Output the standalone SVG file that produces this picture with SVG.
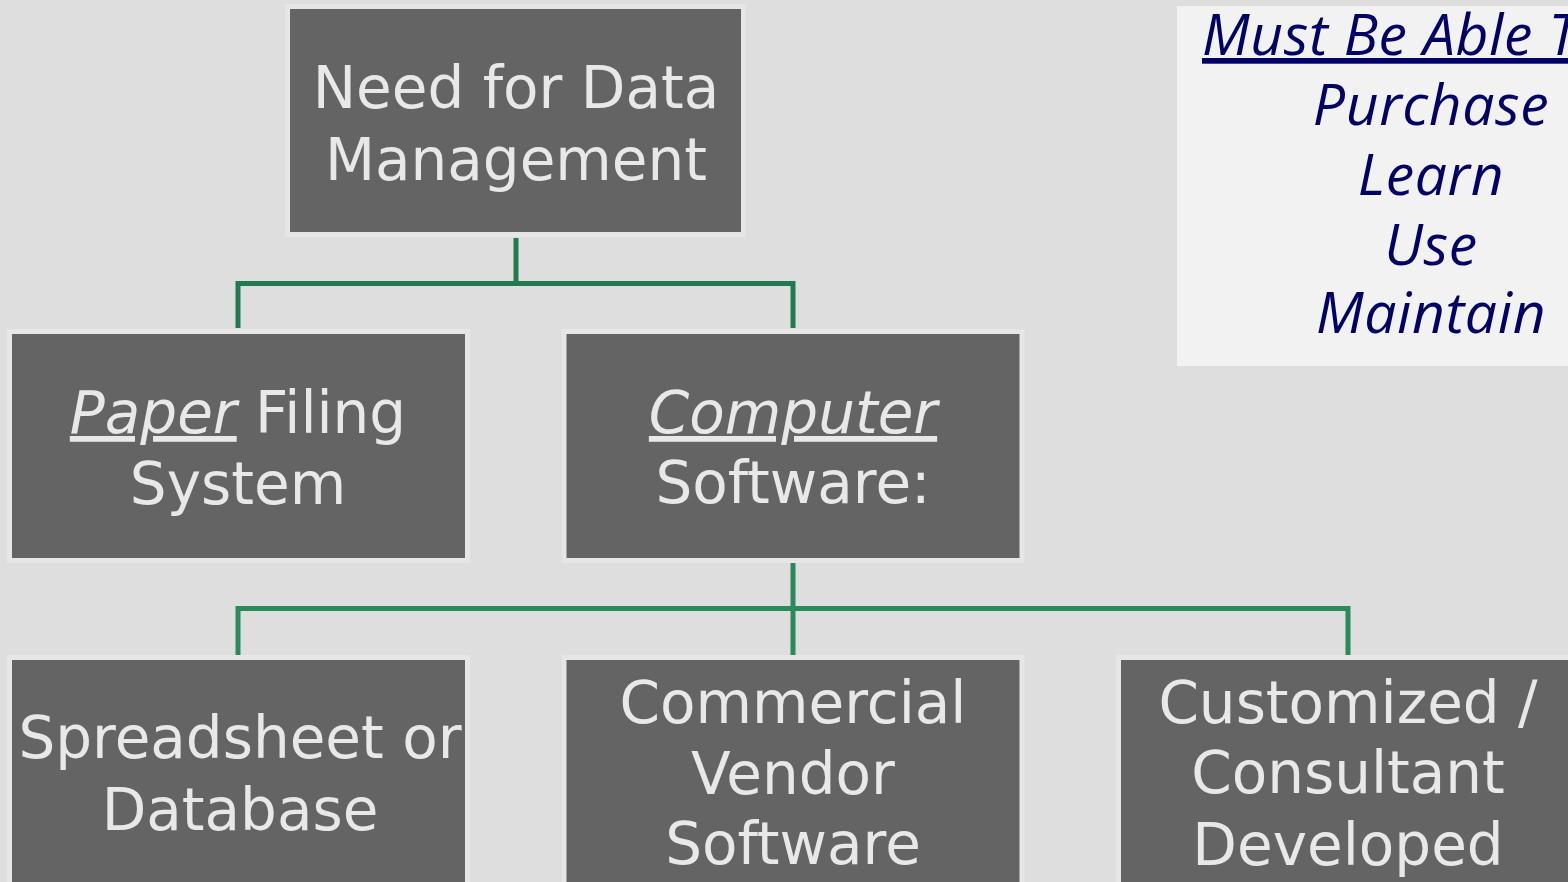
<svg xmlns="http://www.w3.org/2000/svg" width="1568" height="882" viewBox="0 0 1568 882">
<style>
.box{fill:#646464;stroke:#e6e6e6;stroke-width:5}
.t{font-family:"DejaVu Sans",Verdana,sans-serif;font-size:58px;fill:#e8e8e8;text-anchor:middle}
.i{font-style:italic;text-decoration:underline}
.c1{fill:none;stroke:#247a50;stroke-width:5}
.c2{fill:none;stroke:#2a8a5a;stroke-width:5}
.n{font-family:"Open Sans","Noto Sans",sans-serif;font-style:italic;font-size:57px;letter-spacing:0.6px;fill:#000066;text-anchor:middle}
.n.s{text-anchor:start;text-decoration:underline}
</style>
<rect width="1568" height="882" fill="#dedede"/>
<g id="connectors">
<path class="c1" d="M516 238V283.5M238 328V283.5H793V328"/>
<path class="c2" d="M793 563V655M238 655V608.5H1348V655"/>
</g>
<g id="need">
<rect class="box" x="287.5" y="6.5" width="456" height="228"/>
<text class="t" x="516" y="108">Need for Data</text>
<text class="t" x="516" y="180">Management</text>
</g>
<g id="paper">
<rect class="box" x="9.5" y="331.5" width="458" height="229"/>
<text class="t" x="238" y="433"><tspan class="i">Paper</tspan> Filing</text>
<text class="t" x="238" y="504">System</text>
</g>
<g id="computer">
<rect class="box" x="564" y="331.5" width="458" height="229"/>
<text class="t" x="793" y="433"><tspan class="i">Computer</tspan></text>
<text class="t" x="793" y="503">Software:</text>
</g>
<g id="spreadsheet">
<rect class="box" x="9.5" y="657.5" width="458" height="240"/>
<text class="t" x="240" y="758">Spreadsheet or</text>
<text class="t" x="240" y="830">Database</text>
</g>
<g id="commercial">
<rect class="box" x="564" y="657.5" width="458" height="240"/>
<text class="t" x="793" y="723">Commercial</text>
<text class="t" x="793" y="794">Vendor</text>
<text class="t" x="793" y="864">Software</text>
</g>
<g id="customized">
<rect class="box" x="1118.5" y="657.5" width="458" height="240"/>
<text class="t" x="1348" y="723">Customized /</text>
<text class="t" x="1348" y="793">Consultant</text>
<text class="t" x="1348" y="865">Developed</text>
</g>
<g id="must">
<rect x="1177" y="6" width="400" height="360" fill="#f2f2f2"/>
<text class="n s" x="1202" y="55">Must Be Able To:</text>
<text class="n" x="1431" y="125">Purchase</text>
<text class="n" x="1431" y="195">Learn</text>
<text class="n" x="1431" y="265">Use</text>
<text class="n" x="1431" y="333">Maintain</text>
</g>
</svg>
